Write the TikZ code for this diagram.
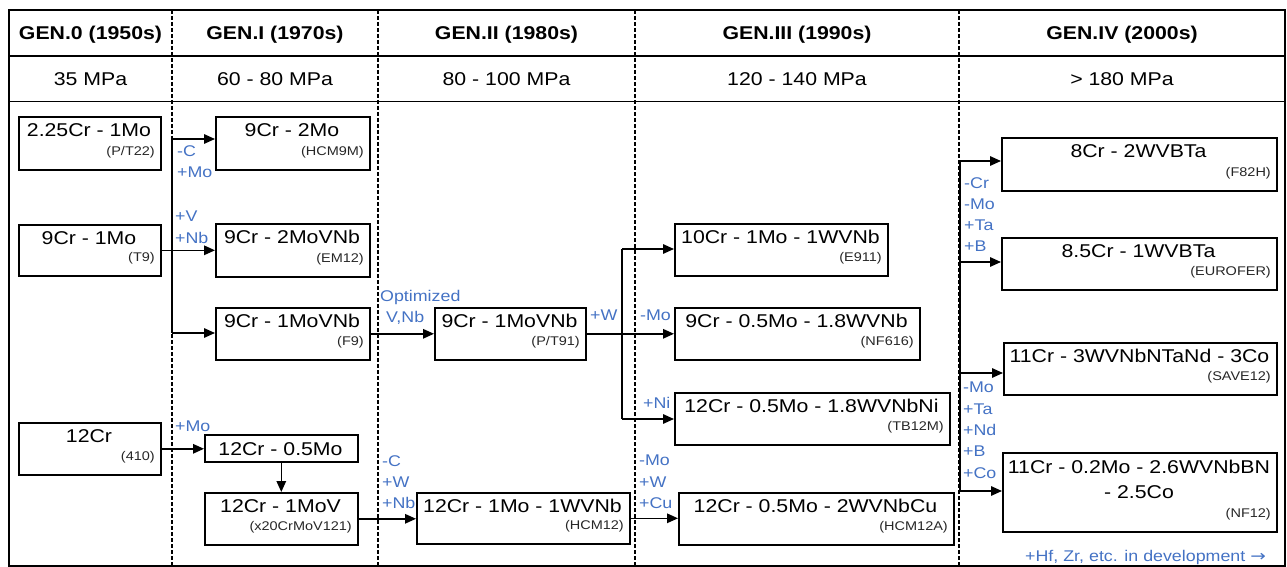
\documentclass[tikz,border=0pt]{standalone}
\usepackage{fontspec}
\setmainfont{Liberation Sans}[FakeStretch=1.15]
\newfontfamily\arrowfont{DejaVu Sans}[FakeStretch=1.2]
\usetikzlibrary{arrows.meta,calc}
\definecolor{lblue}{RGB}{68,114,196}
\tikzset{
  alloybox/.style={draw=black, line width=1.6pt, inner sep=0pt, anchor=north west},
  maintxt/.style={font=\fontsize{18.5}{22}\selectfont, inner sep=0pt, anchor=base},
  subtxt/.style={font=\fontsize{12.6}{15}\selectfont, inner sep=0pt, anchor=base east, text=black!85},
  modlbl/.style={font=\fontsize{15.5}{21.3}\selectfont, text=lblue, inner sep=0pt, anchor=north west, align=left},
  conn/.style={line width=1.5pt, -{Triangle[length=11pt,width=9.5pt]}},
  trunkline/.style={line width=1.5pt},
  colsep/.style={line width=1.2pt, dash pattern=on 4pt off 2pt},
  framest/.style={line width=1.6pt},
  hdr/.style={font=\bfseries\fontsize{18.5}{22}\selectfont, anchor=base, inner sep=0pt},
  mpa/.style={font=\fontsize{18.5}{22}\selectfont, anchor=base, inner sep=0pt},
}
\newcommand{\alloynode}[7]{%
  \node[alloybox, minimum width={(#4-#2)*1pt}, minimum height={(#5-#3)*1pt}] (#1) at (#2,#3) {};
  \node[maintxt] (#1-m) at ({(#2+#4)/2},{#3+20.5}) {#6};
  \node[subtxt] (#1-s) at ({#4-5},{#5-13.5}) {#7};
}
\begin{document}
\begin{tikzpicture}[x=1pt,y=-1pt]
\useasboundingbox (0,0) rectangle (1287,567);
% frame and header
\draw[framest] (9,10) rectangle (1285,566);
\draw[framest] (9,56) -- (1285,56);
\draw[framest] (9,101.5) -- (1285,101.5);
\foreach \xx in {172,378,635,959} \draw[colsep] (\xx,10) -- (\xx,566);
\node[hdr] (h0) at (90.5,40) {GEN.0 (1950s)};
\node[hdr] (h1) at (275,40) {GEN.I (1970s)};
\node[hdr] (h2) at (506.5,40) {GEN.II (1980s)};
\node[hdr] (h3) at (797,40) {GEN.III (1990s)};
\node[hdr] (h4) at (1122,40) {GEN.IV (2000s)};
\node[mpa] (m0) at (90.5,86) {35 MPa};
\node[mpa] (m1) at (275,86) {60 - 80 MPa};
\node[mpa] (m2) at (506.5,86) {80 - 100 MPa};
\node[mpa] (m3) at (797,86) {120 - 140 MPa};
\node[mpa] (m4) at (1122,86) {> 180 MPa};
% boxes
\alloynode{p22}{18}{116}{160}{169}{2.25Cr - 1Mo}{(P/T22)}
\alloynode{t9}{18}{224}{160}{275}{9Cr - 1Mo}{(T9)}
\alloynode{c410}{18}{422}{160}{474}{12Cr}{(410)}
\alloynode{hcm9m}{215}{116}{369}{169}{9Cr - 2Mo}{(HCM9M)}
\alloynode{em12}{215}{223}{369}{276}{9Cr - 2MoVNb}{(EM12)}
\alloynode{f9}{215}{307}{369}{359}{9Cr - 1MoVNb}{(F9)}
\node[alloybox, minimum width=153pt, minimum height=27pt] (c12mo) at (204,434) {};
\node[maintxt] (c12mo-m) at (280.5,455) {12Cr - 0.5Mo};
\alloynode{x20}{204}{492}{357}{544}{12Cr - 1MoV}{(x20CrMoV121)}
\alloynode{t91}{434}{307}{585}{359}{9Cr - 1MoVNb}{(P/T91)}
\alloynode{hcm12}{416}{492}{629}{543}{12Cr - 1Mo - 1WVNb}{(HCM12)}
\alloynode{e911}{674}{223}{887}{275}{10Cr - 1Mo - 1WVNb}{(E911)}
\alloynode{nf616}{674}{307}{919}{359}{9Cr - 0.5Mo - 1.8WVNb}{(NF616)}
\alloynode{tb12m}{674}{392}{949}{444}{12Cr - 0.5Mo - 1.8WVNbNi}{(TB12M)}
\alloynode{hcm12a}{678}{492}{953}{544}{12Cr - 0.5Mo - 2WVNbCu}{(HCM12A)}
\alloynode{f82h}{1001}{137}{1276}{190}{8Cr - 2WVBTa}{(F82H)}
\alloynode{eurofer}{1001}{237}{1276}{289}{8.5Cr - 1WVBTa}{(EUROFER)}
\alloynode{save12}{1003}{342}{1276}{394}{11Cr - 3WVNbNTaNd - 3Co}{(SAVE12)}
\node[alloybox, minimum width=274pt, minimum height=79pt] (nf12) at (1002,452) {};
\node[maintxt] (nf12-m) at (1139,473) {11Cr - 0.2Mo - 2.6WVNbBN};
\node[maintxt] (nf12-m2) at (1139,498) {- 2.5Co};
\node[subtxt] (nf12-s) at (1271,517) {(NF12)};
% connectors GEN.I
\coordinate (g1a) at (172,139);
\coordinate (g1b) at (172,333);
\draw[trunkline] (g1a) -- (g1b);
\draw[conn] (g1a) -- (g1a -| hcm9m.west);
\draw[conn] (t9.east) -- (em12.west);
\draw[conn] (g1b) -- (g1b -| f9.west);
\draw[conn] (c410.east) -- (c410.east -| c12mo.west);
\draw[conn] (c12mo.south) -- (x20.north);
\draw[conn] (x20.east) -- (x20.east -| hcm12.west);
\draw[conn] (f9.east) -- (t91.west);
\draw[conn] (t91.east) -- (nf616.west);
\coordinate (b3a) at (622,249);
\coordinate (b3b) at (622,419);
\draw[trunkline] (b3a) -- (b3b);
\draw[conn] (b3a) -- (b3a -| e911.west);
\draw[conn] (b3b) -- (b3b -| tb12m.west);
\draw[conn] (hcm12.east) -- (hcm12.east -| hcm12a.west);
\coordinate (g4a) at (960,161);
\coordinate (g4b) at (960,262);
\coordinate (g4c) at (960,373);
\coordinate (g4d) at (960,491);
\draw[trunkline] (g4a) -- (g4d);
\draw[conn] (g4a) -- (g4a -| f82h.west);
\draw[conn] (g4b) -- (g4b -| eurofer.west);
\draw[conn] (g4c) -- (g4c -| save12.west);
\draw[conn] (g4d) -- (g4d -| nf12.west);
% modification labels
\node[modlbl] (l1) at (177,145) {-C\\+Mo};
\node[modlbl] (l2) at (175,211) {+V\\+Nb};
\node[modlbl] (l3) at (175,421) {+Mo};
\node[modlbl] (l4) at (380,290) {Optimized\\\hspace*{6pt}V,Nb};
\node[modlbl] (l5) at (590,310) {+W};
\node[modlbl] (l6) at (640,310) {-Mo};
\node[modlbl] (l7) at (643,397) {+Ni};
\node[modlbl] (l8) at (382,455) {-C\\+W\\+Nb};
\node[modlbl] (l9) at (639,455) {-Mo\\+W\\+Cu};
\node[modlbl] (l10) at (964,177) {-Cr\\-Mo\\+Ta\\+B};
\node[modlbl] (l11) at (963,382) {-Mo\\+Ta\\+Nd\\+B\\+Co};
\node[modlbl, anchor=base west] (l12) at (1025,561) {+Hf, Zr, etc. in development {\arrowfont →}};
\end{tikzpicture}
\end{document}
